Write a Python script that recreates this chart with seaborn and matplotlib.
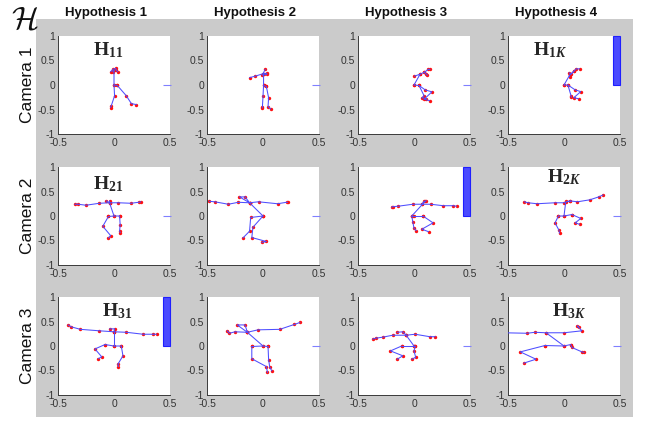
import matplotlib
matplotlib.use('Agg')
import numpy as np
import pandas as pd
import matplotlib.pyplot as plt
import seaborn as sns
from matplotlib.patches import Rectangle

# column / row headers
hyp_titles = ['Hypothesis 1', 'Hypothesis 2', 'Hypothesis 3', 'Hypothesis 4']
cam_labels = ['Camera 1', 'Camera 2', 'Camera 3']

# weight bar at the right edge of each panel (rows = cameras)
weights = [[0, 0, 0, 1],
           [0, 0, 1, 0],
           [1, 0, 0, 0]]

# tag text drawn inside some panels: (row, col, text)
panel_tags = [(0, 0, r'$\mathrm{H}_{\mathit{11}}$'), (0, 3, r'$\mathrm{H}_{\mathit{1K}}$'),
              (1, 0, r'$\mathrm{H}_{\mathit{21}}$'), (1, 3, r'$\mathrm{H}_{\mathit{2K}}$'),
              (2, 0, r'$\mathrm{H}_{\mathit{31}}$'), (2, 3, r'$\mathrm{H}_{\mathit{3K}}$')]

# skeletons, one list of joint chains per panel (camera row, hypothesis col)
h11 = [[(-0.03, 0.27), (-0.01, 0.32), (0.015, 0.34), (0.02, 0.3), (0.035, 0.27)],
       [(-0.01, 0.27), (0.0, 0.3)],
       [(0.0, 0.3), (0.0, 0.0), (0.03, -0.01)],
       [(0.0, 0.0), (0.005, -0.22), (-0.025, -0.43), (-0.03, -0.46)],
       [(0.03, -0.01), (0.11, -0.22), (0.155, -0.38), (0.2, -0.4)]]
h12 = [[(-0.12, 0.15), (-0.07, 0.18), (0.0, 0.23), (0.02, 0.32)],
       [(0.0, 0.23), (0.035, 0.24)],
       [(-0.005, 0.2), (0.035, 0.22)],
       [(0.005, 0.22), (0.005, -0.01), (0.03, -0.03)],
       [(0.005, -0.01), (0.0, -0.23), (-0.005, -0.44), (-0.005, -0.47)],
       [(0.03, -0.03), (0.05, -0.26), (0.045, -0.44), (0.07, -0.49)]]
h13 = [[(0.0, 0.0), (0.054, 0.22), (0.003, 0.18)],
       [(0.054, 0.22), (0.093, 0.26), (0.128, 0.32), (0.143, 0.32)],
       [(0.093, 0.26), (0.11, 0.22), (0.12, 0.2)],
       [(0.0, 0.0), (0.045, -0.01), (0.1, -0.1), (0.16, -0.14), (0.09, -0.29), (0.14, -0.32)],
       [(0.045, -0.01), (0.09, -0.22), (0.07, -0.26), (0.11, -0.28)]]
h14 = [[(0.0, 0.0), (0.05, 0.2), (0.05, 0.17)],
       [(0.045, 0.25), (0.063, 0.22), (0.087, 0.28), (0.11, 0.33), (0.14, 0.33)],
       [(0.05, 0.2), (0.087, 0.28)],
       [(0.0, 0.0), (0.035, 0.0), (0.1, -0.1), (0.15, -0.135), (0.087, -0.26), (0.13, -0.28)],
       [(0.035, 0.0), (0.063, -0.22), (0.066, -0.25)]]
h21 = [[(-0.35, 0.24), (-0.32, 0.24), (-0.25, 0.22), (-0.13, 0.26), (-0.04, 0.27),
        (0.04, 0.27), (0.15, 0.26), (0.22, 0.28), (0.24, 0.29)],
       [(-0.07, 0.31), (-0.04, 0.27), (-0.04, 0.31)],
       [(-0.04, 0.27), (0.0, 0.0)],
       [(-0.05, -0.01), (0.0, 0.0), (0.05, 0.0)],
       [(-0.05, -0.01), (-0.1, -0.21), (-0.03, -0.4), (-0.05, -0.45)],
       [(0.05, 0.0), (0.055, -0.18), (0.05, -0.3), (0.055, -0.34)]]
h22 = [[(-0.48, 0.3), (-0.43, 0.29), (-0.31, 0.24), (-0.22, 0.28), (-0.12, 0.27),
        (-0.04, 0.29), (0.13, 0.25), (0.21, 0.28), (0.22, 0.28)],
       [(-0.12, 0.27), (-0.21, 0.39), (-0.16, 0.39), (-0.12, 0.27)],
       [(-0.12, 0.27), (0.0, 0.0)],
       [(0.0, 0.0), (-0.11, -0.03), (-0.12, -0.31), (-0.18, -0.45)],
       [(0.0, 0.0), (-0.09, -0.23), (-0.1, -0.44), (0.03, -0.52), (-0.01, -0.54)]]
h23 = [[(-0.2, 0.18), (-0.19, 0.19), (-0.14, 0.2), (-0.01, 0.24), (0.07, 0.24),
        (0.15, 0.24), (0.26, 0.21), (0.35, 0.21), (0.38, 0.2)],
       [(0.07, 0.24), (0.09, 0.3), (0.11, 0.31)],
       [(0.1, 0.3), (-0.02, 0.0)],
       [(-0.02, 0.0), (0.0, 0.0), (0.08, 0.0)],
       [(-0.02, 0.0), (-0.01, -0.13), (0.0, -0.25), (0.02, -0.3)],
       [(0.08, 0.0), (0.17, -0.14), (0.07, -0.27), (0.13, -0.32)]]
h24 = [[(-0.355, 0.29), (-0.32, 0.27), (-0.24, 0.25), (-0.08, 0.27), (0.0, 0.27),
        (0.05, 0.31), (0.12, 0.29), (0.23, 0.33), (0.31, 0.39), (0.35, 0.43)],
       [(0.02, 0.31), (0.05, 0.31)],
       [(0.015, 0.28), (0.0, 0.0)],
       [(-0.05, 0.0), (0.0, 0.0), (0.07, 0.03)],
       [(-0.05, 0.0), (-0.08, -0.14), (-0.045, -0.29), (-0.04, -0.35)],
       [(0.07, 0.03), (0.15, -0.05), (0.1, -0.14), (0.14, -0.17)]]
h31 = [[(-0.41, 0.43), (-0.38, 0.39), (-0.3, 0.34), (-0.13, 0.31), (0.0, 0.29),
        (0.11, 0.28), (0.26, 0.24), (0.35, 0.24), (0.38, 0.24)],
       [(-0.04, 0.35), (0.006, 0.35), (0.0, 0.29)],
       [(0.0, 0.29), (0.0, 0.0)],
       [(-0.08, 0.03), (0.0, 0.0), (0.065, 0.0)],
       [(-0.08, 0.03), (-0.17, -0.06), (-0.11, -0.22), (-0.14, -0.26)],
       [(0.065, 0.0), (0.08, -0.2), (0.035, -0.37), (0.04, -0.42)]]
h32 = [[(-0.32, 0.31), (-0.3, 0.26), (-0.25, 0.29), (-0.14, 0.28), (-0.045, 0.33),
        (0.15, 0.34), (0.28, 0.44), (0.33, 0.48)],
       [(-0.14, 0.28), (-0.23, 0.43), (-0.16, 0.43), (-0.14, 0.28)],
       [(-0.14, 0.28), (0.0, 0.0)],
       [(-0.1, -0.01), (0.0, 0.0), (0.045, -0.01)],
       [(-0.1, -0.01), (-0.1, -0.26), (0.03, -0.42), (0.04, -0.54)],
       [(0.045, -0.01), (0.05, -0.28), (0.06, -0.43), (0.08, -0.51)]]
h33 = [[(-0.37, 0.14), (-0.34, 0.16), (-0.28, 0.18), (-0.19, 0.22), (-0.07, 0.22),
        (0.01, 0.24), (0.14, 0.19), (0.19, 0.19)],
       [(-0.15, 0.28), (-0.1, 0.29), (-0.07, 0.22)],
       [(-0.07, 0.22), (0.0, 0.0)],
       [(-0.11, 0.0), (0.0, 0.0), (0.01, 0.0)],
       [(-0.11, 0.0), (-0.21, -0.1), (-0.1, -0.2), (-0.15, -0.27)],
       [(0.01, 0.0), (0.0, -0.1), (0.015, -0.23), (-0.02, -0.27)]]
h34 = [[(-0.54, 0.27), (-0.33, 0.26), (-0.26, 0.28), (-0.16, 0.27), (0.0, 0.27),
        (0.16, 0.31), (0.12, 0.41), (0.13, 0.39)],
       [(-0.16, 0.27), (0.0, 0.0)],
       [(-0.17, 0.01), (0.0, 0.0), (0.06, 0.03)],
       [(-0.17, 0.01), (-0.39, -0.12), (-0.25, -0.27), (-0.36, -0.35)],
       [(0.06, 0.03), (0.07, -0.03), (0.16, -0.12), (0.18, -0.13)]]

skeletons = [[h11, h12, h13, h14],
             [h21, h22, h23, h24],
             [h31, h32, h33, h34]]

xticks = [-0.5, 0, 0.5]
xticklabels = ['-0.5', '0', '0.5']
yticks = [-1, -0.5, 0, 0.5, 1]
yticklabels = ['-1', '-0.5', '0', '0.5', '1']

# layout in pixels of the 646x422 canvas
W, H = 646, 422
col_left = [58, 207, 358, 508]
row_top = [36, 167, 297]
ax_w, ax_h = 112, 98
tag_pos = {(0, 0): (-0.19, 0.6), (0, 3): (-0.28, 0.6),
           (1, 0): (-0.19, 0.55), (1, 3): (-0.15, 0.68),
           (2, 0): (-0.11, 0.6), (2, 3): (-0.11, 0.6)}

sns.set_theme(style='white')
plt.rcParams['font.family'] = ['Liberation Sans', 'DejaVu Sans']
plt.rcParams['mathtext.fontset'] = 'custom'
plt.rcParams['mathtext.rm'] = 'Liberation Serif:bold'
plt.rcParams['mathtext.it'] = 'Liberation Serif:italic:bold'
plt.rcParams['mathtext.bf'] = 'Liberation Serif:bold'


def chains_to_df(chains):
    rows = []
    for i, chain in enumerate(chains):
        for x, y in chain:
            rows.append((i, x, y))
    return pd.DataFrame(rows, columns=['chain', 'x', 'y'])


fig = plt.figure(figsize=(W / 100, H / 100), dpi=100)
fig.add_artist(Rectangle((36 / W, 1 - 417 / H), (633 - 36) / W, (417 - 19) / H,
                         transform=fig.transFigure, facecolor='#cbcbcb',
                         edgecolor='none', zorder=0))

axes = {}
for r in range(3):
    for c in range(4):
        ax = fig.add_axes([col_left[c] / W, 1 - (row_top[r] + ax_h) / H, ax_w / W, ax_h / H])
        ax.set_facecolor('white')
        df = chains_to_df(skeletons[r][c])
        sns.scatterplot(data=df, x='x', y='y', color='#ff1010', s=6, linewidth=0,
                        ax=ax, zorder=2)
        sns.lineplot(data=df, x='x', y='y', units='chain', estimator=None, sort=False,
                     color='#4d4dff', linewidth=0.75, ax=ax, zorder=3)
        w = weights[r][c]
        if w > 0:
            ax.bar([0.47], [w], width=0.065, color='#4b4bff', edgecolor='#1f1fff',
                   linewidth=0.8, clip_on=False, zorder=4)
        else:
            ax.bar([0.47], [w], width=0.07, color='#8080ff', edgecolor='#8080ff',
                   linewidth=0.8, clip_on=False, zorder=4)
        ax.set_xlim(-0.5, 0.5)
        ax.set_ylim(-1, 1)
        ax.set_xticks(xticks)
        ax.set_xticklabels(xticklabels)
        ax.set_yticks(yticks)
        ax.set_yticklabels(yticklabels)
        ax.set_xlabel('')
        ax.set_ylabel('')
        for side in ['top', 'right']:
            ax.spines[side].set_visible(False)
        for side in ['left', 'bottom']:
            ax.spines[side].set_color('#3a3a3a')
            ax.spines[side].set_linewidth(0.7)
        ax.tick_params(direction='in', length=2, width=0.6, color='#3a3a3a',
                       labelsize=7.5, labelcolor='#333333')
        ax.tick_params(axis='x', pad=3)
        ax.tick_params(axis='y', pad=2)
        axes[(r, c)] = ax

for r, c, txt in panel_tags:
    x, y = tag_pos[(r, c)]
    axes[(r, c)].text(x, y, txt, fontsize=14, ha='left', va='baseline', zorder=5)

for c, title in enumerate(hyp_titles):
    fig.text((col_left[c] + ax_w / 2 - 8) / W, 1 - 13 / H, title, ha='center',
             va='center', fontsize=9.5, fontweight='bold', color='#111111')

for r, lab in enumerate(cam_labels):
    fig.text(28 / W, 1 - (row_top[r] + ax_h / 2) / H, lab, rotation=90, ha='center',
             va='center', fontsize=12.5, color='#111111')

fig.text(11 / W, 1 - 28 / H, r'$\mathcal{H}$', fontsize=23, math_fontfamily='cm',
         ha='left', va='baseline', color='#111111')

fig.savefig('out.png', dpi=100)
